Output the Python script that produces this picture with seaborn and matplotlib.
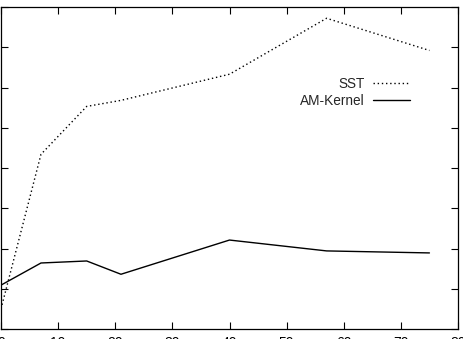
import numpy as np
import pandas as pd
import matplotlib
matplotlib.use("Agg")
import matplotlib.pyplot as plt
import seaborn as sns

# 읽어 낸 값 (x축: 0-80, y축: 눈금 0-8, 라벨은 잘려 있음)
x_vals = [0, 7, 15, 21, 40, 57, 75]
sst = [0.5, 4.34, 5.53, 5.68, 6.33, 7.72, 6.92]
am_kernel = [1.09, 1.64, 1.69, 1.36, 2.21, 1.94, 1.89]
series_names = ["SST", "AM-Kernel"]
x_ticks = [0, 10, 20, 30, 40, 50, 60, 70, 80]
y_ticks = [0, 1, 2, 3, 4, 5, 6, 7, 8]

df = pd.DataFrame({
    "x": x_vals * 2,
    "y": sst + am_kernel,
    "method": [series_names[0]] * len(x_vals) + [series_names[1]] * len(x_vals),
})

sns.set_style("ticks")
plt.rcParams["font.family"] = ["Liberation Sans", "DejaVu Sans"]

fig = plt.figure(figsize=(4.63, 3.39), dpi=100)
ax = fig.add_axes([1 / 463, 10 / 339, 457 / 463, 322 / 339])

sns.lineplot(
    data=df, x="x", y="y", style="method", ax=ax,
    color="black", linewidth=1.0,
    dashes={"SST": (1, 2), "AM-Kernel": ""},
)

ax.set_xlim(0, 80)
ax.set_ylim(0, 8)
ax.set_xticks(x_ticks)
ax.set_yticks(y_ticks)
ax.set_xlabel("")
ax.set_ylabel("")
ax.tick_params(direction="in", length=5, width=0.8, top=True, right=True,
               labelleft=False, labelsize=10, pad=5, colors="black")
for s in ax.spines.values():
    s.set_visible(True)
    s.set_linewidth(0.9)
    s.set_color("black")

ax.legend(
    loc="upper right", bbox_to_anchor=(409 / 457, (329 - 77) / 322),
    frameon=False, markerfirst=False, fontsize=9.8, handlelength=2.7,
    handletextpad=0.6, labelspacing=0.2, borderpad=0, borderaxespad=0,
)

fig.savefig("out.png", dpi=100)
